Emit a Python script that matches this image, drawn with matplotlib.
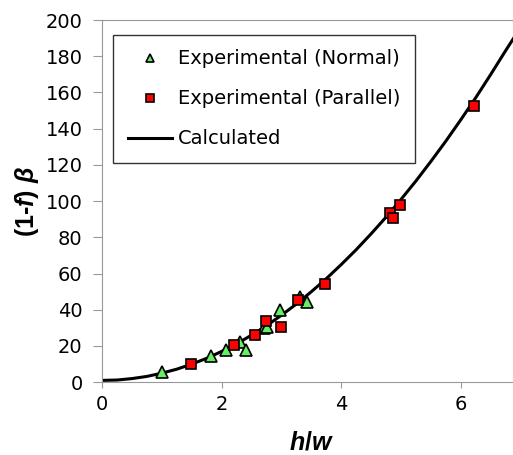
import matplotlib.pyplot as plt

normal_x = [1.00, 1.82, 2.07, 2.31, 2.40, 2.71, 2.76, 2.97, 3.31, 3.43]
normal_y = [5.5, 14.4, 17.7, 22.3, 17.7, 30.2, 30.5, 39.8, 47.1, 44.4]

parallel_x = [1.49, 2.20, 2.56, 2.74, 3.00, 3.28, 3.73, 4.82, 4.87, 4.99, 6.22]
parallel_y = [9.9, 20.4, 25.8, 33.7, 30.6, 45.3, 54.3, 93.2, 90.4, 98.0, 152.5]

# Calculated curve
calc_x = [0, 0.25, 0.5, 0.75, 1.0, 1.25, 1.5, 1.75, 2.0, 2.25, 2.5, 2.75, 3.0, 3.25, 3.5,
          3.75, 4.0, 4.25, 4.5, 4.75, 5.0, 5.25, 5.5, 5.75, 6.0, 6.25, 6.5, 6.75, 7.0]
calc_y = [1.0, 1.2, 2.0, 3.2, 5.0, 7.2, 10.0, 13.2, 17.0, 21.2, 26.0, 31.2, 37.0, 43.2, 50.0,
          57.2, 65.0, 73.2, 82.0, 91.2, 101.0, 111.2, 122.0, 133.2, 145.0, 157.2, 170.0, 183.2, 196.0]

plt.rcParams['font.family'] = ['DejaVu Sans']
plt.rcParams['mathtext.fontset'] = 'custom'
plt.rcParams['mathtext.it'] = 'Liberation Sans:italic:bold'
plt.rcParams['mathtext.rm'] = 'Liberation Sans:bold'

fig = plt.figure(figsize=(5.13, 4.55), dpi=100)
ax = fig.add_axes([0.199, 0.160, 1.015 - 0.199, 0.796])

ax.plot(normal_x, normal_y, linestyle='none', marker='^', markersize=9,
        markerfacecolor='#66EE66', markeredgecolor='black', markeredgewidth=1.2,
        label='Experimental (Normal)', zorder=3)
ax.plot(parallel_x, parallel_y, linestyle='none', marker='s', markersize=7.5,
        markerfacecolor='#FF0000', markeredgecolor='black', markeredgewidth=1.2,
        label='Experimental (Parallel)', zorder=4)
ax.plot(calc_x, calc_y, color='black', linewidth=2.2, label='Calculated', zorder=2)

ax.set_xlim(0, 7)
ax.set_ylim(0, 200)
ax.set_xticks([0, 2, 4, 6])
ax.set_yticks(range(0, 201, 20))
ax.tick_params(axis='both', labelsize=14, direction='out', color='#999999')
ax.tick_params(axis='y', length=6.5, pad=7.5)
ax.tick_params(axis='x', length=4.3, pad=5)
for s in ax.spines.values():
    s.set_color('#999999')

lab_font = {'family': 'Liberation Sans', 'size': 18, 'weight': 'bold'}
ax.set_xlabel('$h/w$', fontdict=lab_font, labelpad=12)
ax.set_ylabel('(1-$f$) $\\beta$', fontdict=lab_font, labelpad=3)

leg = ax.legend(loc='upper left', bbox_to_anchor=(0.026, 0.959), borderaxespad=0,
                fontsize=14, frameon=True, fancybox=False, edgecolor='black',
                handlelength=2.3, labelspacing=1.08, markerscale=0.7, handletextpad=0.3,
                borderpad=0.75)
leg.get_frame().set_linewidth(1.0)

fig.savefig('out.png', dpi=100)
